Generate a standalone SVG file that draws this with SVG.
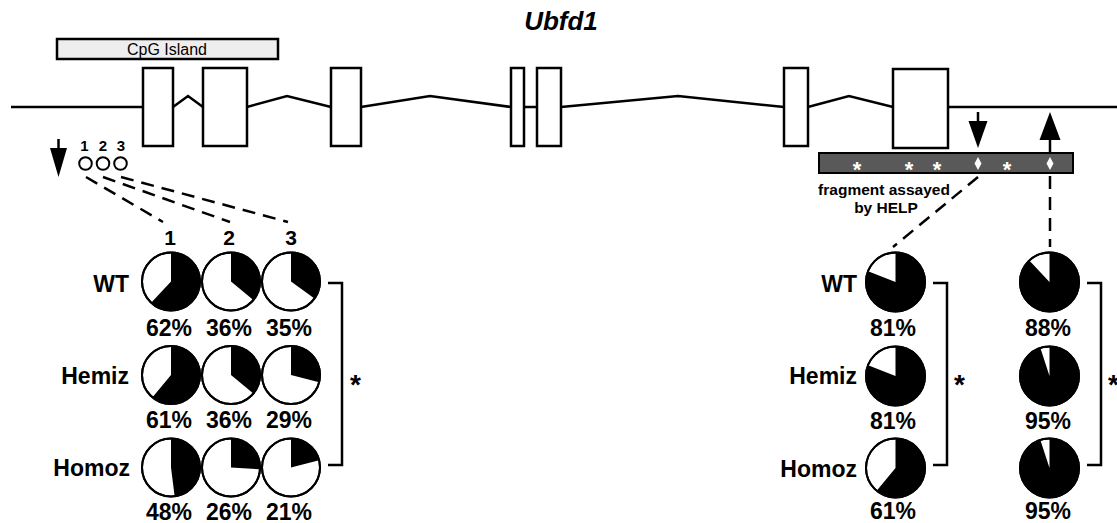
<svg xmlns="http://www.w3.org/2000/svg" width="1117" height="523" viewBox="0 0 1117 523">
<style>
text{font-family:"Liberation Sans",Arial,sans-serif;fill:#000}
.ln{fill:none;stroke:#000;stroke-width:2.5}
.ex{fill:#fff;stroke:#000;stroke-width:2.5}
.dash{fill:none;stroke:#000;stroke-width:2.5;stroke-dasharray:13 8}
.head{fill:#000;stroke:none}
.pc{fill:#fff;stroke:#000;stroke-width:2}
.pb{fill:#000;stroke:none}
.lab{font-size:23px;font-weight:bold;text-anchor:end}
.pct{font-size:23px;font-weight:bold;text-anchor:middle}
.col{font-size:21px;font-weight:bold;text-anchor:middle}
.ast{font-size:28px;font-weight:bold}
.wast{font-size:22px;font-weight:bold;fill:#fff;text-anchor:middle}
</style>

<text x="561" y="30" style="font-size:26px;font-weight:bold;font-style:italic;text-anchor:middle">Ubfd1</text>

<g id="cpg-island">
<rect x="57" y="39" width="221" height="20" fill="#eeeeee" stroke="#000" stroke-width="2.5"/>
<text x="167" y="55" style="font-size:16px;text-anchor:middle">CpG Island</text>
</g>

<g id="gene">
<path class="ln" d="M11,107 L143,107 L173,107 L188,96 L203,107 L247,107 L287,96 L331,107 L361,107 L430,96 L511,107 L537,107 L561,107 L678,96 L784,107 L808,107 L849,96 L893,107 L1117,107"/>
<rect class="ex" x="143" y="68" width="30" height="78"/>
<rect class="ex" x="203" y="68" width="44" height="78"/>
<rect class="ex" x="331" y="68" width="30" height="78"/>
<rect class="ex" x="511" y="68" width="13" height="78"/>
<rect class="ex" x="537" y="68" width="24" height="78"/>
<rect class="ex" x="784" y="68" width="24" height="78"/>
<rect class="ex" x="893" y="69" width="55" height="79"/>
</g>

<g id="cpg-sites">
<text x="84.5" y="151" style="font-size:15px;font-weight:bold;text-anchor:middle">1</text>
<text x="103" y="151" style="font-size:15px;font-weight:bold;text-anchor:middle">2</text>
<text x="121" y="151" style="font-size:15px;font-weight:bold;text-anchor:middle">3</text>
<circle cx="85.5" cy="163.5" r="6.3" fill="#fff" stroke="#000" stroke-width="2"/>
<circle cx="103" cy="163.5" r="6.3" fill="#fff" stroke="#000" stroke-width="2"/>
<circle cx="120.5" cy="163.5" r="6.3" fill="#fff" stroke="#000" stroke-width="2"/>
</g>

<g id="fragment">
<rect x="819" y="153" width="254" height="20" fill="#595959" stroke="#000" stroke-width="2"/>
<text class="wast" x="857" y="176.5">*</text>
<text class="wast" x="909" y="176.5">*</text>
<text class="wast" x="937" y="176.5">*</text>
<text class="wast" x="1007" y="176.5">*</text>
<polygon points="978,157 981.5,163.5 978,170 974.5,163.5" fill="#fff"/>
<polygon points="1050,157 1053.5,163.5 1050,170 1046.5,163.5" fill="#fff"/>
<text x="884" y="195" style="font-size:15.5px;font-weight:bold;text-anchor:middle">fragment assayed</text>
<text x="886" y="213" style="font-size:15.5px;font-weight:bold;text-anchor:middle">by HELP</text>
</g>

<g id="connectors">
<line class="ln" x1="58.5" y1="139" x2="58.5" y2="152"/>
<polygon class="head" points="50,148 67,148 58.5,177"/>
<line class="ln" x1="978" y1="112" x2="978" y2="124"/>
<polygon class="head" points="968.5,121 987.5,121 978,148"/>
<line class="ln" x1="1050" y1="153" x2="1050" y2="137"/>
<polygon class="head" points="1039.5,140 1060.5,140 1050,112"/>
<line class="dash" x1="86" y1="177" x2="163" y2="222"/>
<line class="dash" x1="103" y1="177" x2="230" y2="222"/>
<line class="dash" x1="121" y1="177" x2="288" y2="222"/>
<line class="dash" x1="978" y1="177" x2="893" y2="247"/>
<line class="dash" x1="1050" y1="176" x2="1050" y2="247"/>
</g>

<g id="col-labels">
<text class="col" x="170" y="245">1</text>
<text class="col" x="229" y="245">2</text>
<text class="col" x="291" y="245">3</text>
</g>

<g id="row-labels-left">
<text class="lab" x="129" y="292">WT</text>
<text class="lab" x="129" y="384">Hemiz</text>
<text class="lab" x="130" y="476">Homoz</text>
</g>

<g id="pie-wt-1" transform="translate(171,281.5)">
<circle class="pc" r="29"/><path class="pb" d="M0,0 L0,-29 A29,29 0 1 1 -19.85,21.14 Z"/><circle r="29" fill="none" stroke="#000" stroke-width="2"/>
</g>
<g id="pie-wt-2" transform="translate(231,281.5)">
<circle class="pc" r="29"/><path class="pb" d="M0,0 L0,-29 A29,29 0 0 1 22.34,18.48 Z"/><circle r="29" fill="none" stroke="#000" stroke-width="2"/>
</g>
<g id="pie-wt-3" transform="translate(291,281.5)">
<circle class="pc" r="29"/><path class="pb" d="M0,0 L0,-29 A29,29 0 0 1 23.46,17.05 Z"/><circle r="29" fill="none" stroke="#000" stroke-width="2"/>
</g>
<g id="pie-hemiz-1" transform="translate(171,375)">
<circle class="pc" r="29"/><path class="pb" d="M0,0 L0,-29 A29,29 0 1 1 -18.48,22.34 Z"/><circle r="29" fill="none" stroke="#000" stroke-width="2"/>
</g>
<g id="pie-hemiz-2" transform="translate(231,375)">
<circle class="pc" r="29"/><path class="pb" d="M0,0 L0,-29 A29,29 0 0 1 22.34,18.48 Z"/><circle r="29" fill="none" stroke="#000" stroke-width="2"/>
</g>
<g id="pie-hemiz-3" transform="translate(291,375)">
<circle class="pc" r="29"/><path class="pb" d="M0,0 L0,-29 A29,29 0 0 1 28.09,7.21 Z"/><circle r="29" fill="none" stroke="#000" stroke-width="2"/>
</g>
<g id="pie-homoz-1" transform="translate(171,467.5)">
<circle class="pc" r="29"/><path class="pb" d="M0,0 L0,-29 A29,29 0 0 1 3.63,28.77 Z"/><circle r="29" fill="none" stroke="#000" stroke-width="2"/>
</g>
<g id="pie-homoz-2" transform="translate(231,467.5)">
<circle class="pc" r="29"/><path class="pb" d="M0,0 L0,-29 A29,29 0 0 1 28.94,1.82 Z"/><circle r="29" fill="none" stroke="#000" stroke-width="2"/>
</g>
<g id="pie-homoz-3" transform="translate(291,467.5)">
<circle class="pc" r="29"/><path class="pb" d="M0,0 L0,-29 A29,29 0 0 1 28.09,-7.21 Z"/><circle r="29" fill="none" stroke="#000" stroke-width="2"/>
</g>

<g id="pct-left">
<text class="pct" x="169" y="336">62%</text>
<text class="pct" x="229" y="336">36%</text>
<text class="pct" x="289" y="336">35%</text>
<text class="pct" x="169" y="428">61%</text>
<text class="pct" x="229" y="428">36%</text>
<text class="pct" x="289" y="428">29%</text>
<text class="pct" x="169" y="520">48%</text>
<text class="pct" x="229" y="520">26%</text>
<text class="pct" x="289" y="520">21%</text>
</g>

<g id="bracket-left">
<path class="ln" d="M328,283 L342,283 L342,465 L328,465"/>
<text class="ast" x="350" y="394">*</text>
</g>

<g id="row-labels-right">
<text class="lab" x="857" y="292">WT</text>
<text class="lab" x="857" y="384">Hemiz</text>
<text class="lab" x="857" y="477">Homoz</text>
</g>

<g id="pie-help1-wt" transform="translate(895.5,282)">
<circle class="pc" r="29.5"/><path class="pb" d="M0,0 L0,-29.5 A29.5,29.5 0 1 1 -27.43,-10.86 Z"/><circle r="29.5" fill="none" stroke="#000" stroke-width="2"/>
</g>
<g id="pie-help1-hemiz" transform="translate(895.5,376)">
<circle class="pc" r="29.5"/><path class="pb" d="M0,0 L0,-29.5 A29.5,29.5 0 1 1 -27.43,-10.86 Z"/><circle r="29.5" fill="none" stroke="#000" stroke-width="2"/>
</g>
<g id="pie-help1-homoz" transform="translate(895.5,468)">
<circle class="pc" r="29.5"/><path class="pb" d="M0,0 L0,-29.5 A29.5,29.5 0 1 1 -18.80,22.73 Z"/><circle r="29.5" fill="none" stroke="#000" stroke-width="2"/>
</g>
<g id="pie-help2-wt" transform="translate(1049.5,282)">
<circle class="pc" r="29.5"/><path class="pb" d="M0,0 L0,-29.5 A29.5,29.5 0 1 1 -20.19,-21.51 Z"/><circle r="29.5" fill="none" stroke="#000" stroke-width="2"/>
</g>
<g id="pie-help2-hemiz" transform="translate(1049.5,376)">
<circle class="pc" r="29.5"/><path class="pb" d="M0,0 L0,-29.5 A29.5,29.5 0 1 1 -9.12,-28.06 Z"/><circle r="29.5" fill="none" stroke="#000" stroke-width="2"/>
</g>
<g id="pie-help2-homoz" transform="translate(1049.5,468)">
<circle class="pc" r="29.5"/><path class="pb" d="M0,0 L0,-29.5 A29.5,29.5 0 1 1 -9.12,-28.06 Z"/><circle r="29.5" fill="none" stroke="#000" stroke-width="2"/>
</g>

<g id="pct-right">
<text class="pct" x="893" y="336">81%</text>
<text class="pct" x="893" y="429">81%</text>
<text class="pct" x="893" y="519">61%</text>
<text class="pct" x="1048" y="336">88%</text>
<text class="pct" x="1048" y="429">95%</text>
<text class="pct" x="1048" y="519">95%</text>
</g>

<g id="bracket-right-1">
<path class="ln" d="M933,283 L947,283 L947,465 L933,465"/>
<text class="ast" x="954" y="394">*</text>
</g>
<g id="bracket-right-2">
<path class="ln" d="M1087,283 L1101,283 L1101,465 L1087,465"/>
<text class="ast" x="1108" y="394">*</text>
</g>
</svg>
